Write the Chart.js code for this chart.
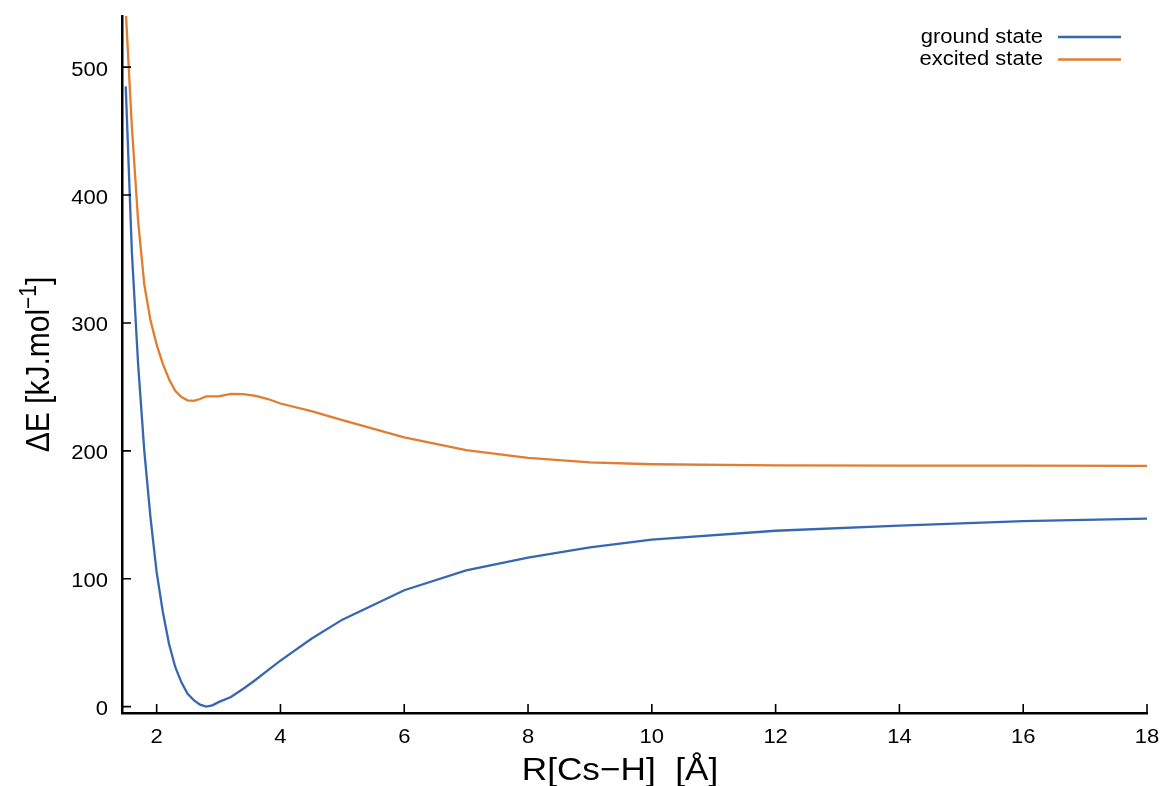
<!DOCTYPE html>
<html>
<head>
<meta charset="utf-8">
<title>CsH potential energy curves</title>
<script src="https://cdn.jsdelivr.net/npm/chart.js@4.4.1/dist/chart.umd.min.js"></script>
<style>
    html, body {
        margin: 0;
        padding: 0;
        background: #ffffff;
    }

    #wrap {
        width: 1165px;
        height: 786px;
    }
</style>
</head>
<body>
<div id="wrap">
    <canvas id="curves" width="1165" height="786"></canvas>
</div>
<script>
"use strict";

// Internuclear distance R[Cs-H] in angstrom
const rValues = [
    1.5, 1.6, 1.7, 1.8, 1.9, 2.0, 2.1, 2.2, 2.3, 2.4, 2.5, 2.6, 2.7, 2.8, 2.9, 3.0,
    3.2, 3.4, 3.6, 3.8, 4.0, 4.5, 5.0, 6, 7, 8, 9, 10, 12, 14, 16, 18
];

// Energies in kJ/mol, relative to the ground state minimum
const groundState = [
    485, 355, 268, 200, 148, 105, 74, 49, 31, 19, 10, 5, 1.5, 0, 1, 3.5,
    7.5, 14, 21, 28.5, 36, 53, 68, 91, 106.5, 116.5, 124.5, 130.5, 137.5, 141.5, 145, 147
];

const excitedState = [
    545, 453, 380, 330, 302, 283, 268, 256, 247, 242, 239.5, 239, 240.5, 242.5, 242.5, 242.5,
    244.5, 244.3, 243, 240.5, 237, 231, 224, 210.5, 200.5, 194.5, 191, 189.5, 188.6, 188.5, 188.5, 188.3
];

const seriesNames = ["ground state", "excited state"];
const seriesColors = ["#3767b1", "#e07d2e"];

const xTicks = [2, 4, 6, 8, 10, 12, 14, 16, 18];
const yTicks = [0, 100, 200, 300, 400, 500];

const xTitle = "R[Cs\u2212H]  [\u00c5]";

const FONT = "'Liberation Sans', Arial, Helvetica, sans-serif";

// all lettering is a little wider than the plain font
const STRETCH = 1.1;

function toPoints(values) {
    return values.map((y, i) => ({ x: rValues[i], y: y }));
}

// draw text with the horizontal stretch applied around the anchor point
function wideText(ctx, text, x, y, align) {
    ctx.save();
    ctx.translate(x, y);
    ctx.scale(STRETCH, 1);
    ctx.textAlign = align;
    ctx.fillText(text, 0, 0);
    ctx.restore();
}

// Short tick marks pointing into the plot, plus the tick numbers
const axisDecor = {
    id: "axisDecor",
    afterDraw(chart) {
        const { ctx, chartArea, scales } = chart;
        ctx.save();
        ctx.strokeStyle = "#000000";
        ctx.lineWidth = 1.6;
        ctx.beginPath();
        xTicks.forEach(v => {
            const px = scales.x.getPixelForValue(v);
            ctx.moveTo(px, chartArea.bottom);
            ctx.lineTo(px, chartArea.bottom - 9);
        });
        yTicks.forEach(v => {
            const py = scales.y.getPixelForValue(v);
            ctx.moveTo(chartArea.left, py);
            ctx.lineTo(chartArea.left + 9, py);
        });
        ctx.stroke();

        ctx.fillStyle = "#000000";
        ctx.font = "20px " + FONT;
        ctx.textBaseline = "alphabetic";
        xTicks.forEach(v => {
            const px = scales.x.getPixelForValue(v);
            wideText(ctx, String(v), px, chartArea.bottom + 29.5, "center");
        });
        yTicks.forEach(v => {
            const py = scales.y.getPixelForValue(v);
            wideText(ctx, String(v), chartArea.left - 14, py + 8.5, "right");
        });

        ctx.font = "32px " + FONT;
        wideText(ctx, xTitle, 620, 780, "center");
        ctx.restore();
    }
};

// Legend in the top right corner: label first, line sample after it
const cornerLegend = {
    id: "cornerLegend",
    afterDraw(chart) {
        const { ctx } = chart;
        ctx.save();
        ctx.font = "20px " + FONT;
        ctx.textBaseline = "middle";
        chart.data.datasets.forEach((ds, i) => {
            const y = 37 + i * 22.5;
            ctx.fillStyle = "#000000";
            wideText(ctx, ds.label, 1043, y, "right");
            ctx.strokeStyle = ds.borderColor;
            ctx.lineWidth = 2.3;
            ctx.beginPath();
            ctx.moveTo(1058, y);
            ctx.lineTo(1121, y);
            ctx.stroke();
        });
        ctx.restore();
    }
};

// Y axis title with a raised "-1"
const yTitle = {
    id: "yTitle",
    afterDraw(chart) {
        const { ctx, chartArea } = chart;
        const mainFont = "30px " + FONT;
        const supFont = "21px " + FONT;
        const parts = [
            { text: "\u0394E [kJ.mol", font: mainFont, rise: 0 },
            { text: "\u22121", font: supFont, rise: 12 },
            { text: "]", font: mainFont, rise: 0 }
        ];
        ctx.save();
        let total = 0;
        parts.forEach(p => {
            ctx.font = p.font;
            p.w = ctx.measureText(p.text).width;
            total += p.w;
        });
        const cy = (chartArea.top + chartArea.bottom) / 2;
        ctx.translate(49, cy);
        ctx.scale(STRETCH, 1);
        ctx.rotate(-Math.PI / 2);
        ctx.fillStyle = "#000000";
        ctx.textBaseline = "alphabetic";
        ctx.textAlign = "left";
        let x = -total / 2;
        parts.forEach(p => {
            ctx.font = p.font;
            ctx.fillText(p.text, x, -p.rise);
            x += p.w;
        });
        ctx.restore();
    }
};

const ctx = document.getElementById("curves");

new Chart(ctx, {
    type: "line",
    data: {
        datasets: [
            {
                label: seriesNames[0],
                data: toPoints(groundState),
                borderColor: seriesColors[0],
                borderWidth: 2.3,
                pointRadius: 0,
                tension: 0,
                fill: false
            },
            {
                label: seriesNames[1],
                data: toPoints(excitedState),
                borderColor: seriesColors[1],
                borderWidth: 2.3,
                pointRadius: 0,
                tension: 0,
                fill: false
            }
        ]
    },
    options: {
        responsive: false,
        animation: false,
        devicePixelRatio: 1,
        layout: {
            padding: { top: 16, right: 18, left: 0, bottom: 0 }
        },
        plugins: {
            legend: { display: false },
            tooltip: { enabled: false }
        },
        scales: {
            x: {
                type: "linear",
                min: 1.44,
                max: 18,
                afterBuildTicks(scale) {
                    scale.ticks = xTicks.map(v => ({ value: v }));
                },
                afterFit(scale) {
                    scale.height = 73;
                    scale.paddingLeft = 0;
                    scale.paddingRight = 0;
                },
                grid: {
                    display: true,
                    drawOnChartArea: false,
                    drawTicks: false
                },
                border: {
                    display: true,
                    color: "#000000",
                    width: 2.5
                },
                ticks: { display: false }
            },
            y: {
                type: "linear",
                min: -5,
                max: 540,
                afterBuildTicks(scale) {
                    scale.ticks = yTicks.map(v => ({ value: v }));
                },
                afterFit(scale) {
                    scale.width = 122;
                    scale.paddingTop = 0;
                    scale.paddingBottom = 0;
                },
                grid: {
                    display: true,
                    drawOnChartArea: false,
                    drawTicks: false
                },
                border: {
                    display: true,
                    color: "#000000",
                    width: 2.5
                },
                ticks: { display: false }
            }
        }
    },
    plugins: [axisDecor, cornerLegend, yTitle]
});
</script>
</body>
</html>
